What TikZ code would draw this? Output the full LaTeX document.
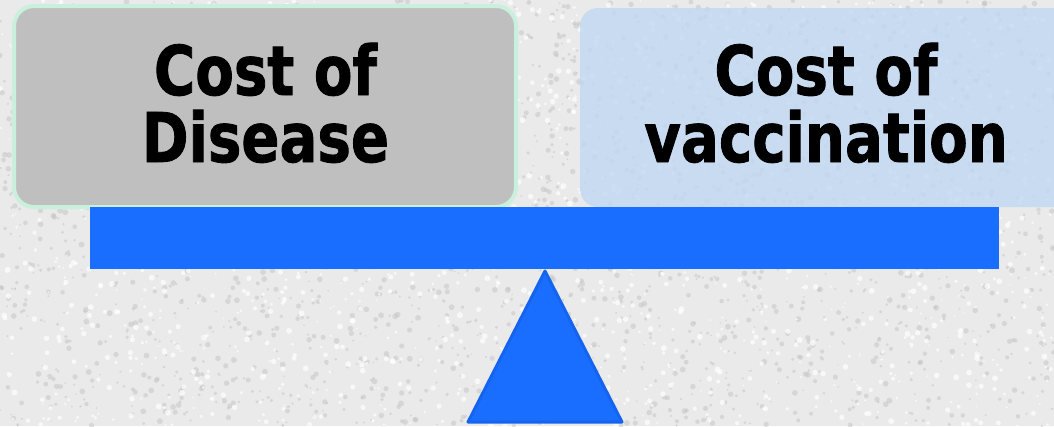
\documentclass[tikz,border=0pt]{standalone}
\usepackage{fontspec}
\newfontfamily\boxfont[FakeStretch=0.82,FakeBold=1.2]{DejaVu Sans Bold}
\definecolor{bgc}{RGB}{234,234,234}
\definecolor{speckdark}{RGB}{196,196,196}
\definecolor{greybox}{RGB}{191,191,191}
\definecolor{mint}{RGB}{200,240,220}
\definecolor{bluebox}{RGB}{192,216,242}
\definecolor{barblue}{RGB}{26,110,255}
\definecolor{baredge}{RGB}{20,100,240}
\tikzset{
  lbl/.style={anchor=base, inner sep=0pt, font=\boxfont\fontsize{68.6}{67}\selectfont, text=black},
  leftbox/.style={fill=greybox, draw=mint, line width=4pt, rounded corners=20pt},
  rightbox/.style={fill=bluebox, fill opacity=0.8, rounded corners=18pt},
  beam/.style={fill=barblue},
  fulcrum/.style={fill=barblue, draw=baredge, line width=3pt, line join=round}
}
\begin{document}
\begin{tikzpicture}[x=1pt,y=-1pt]
\useasboundingbox (0,0) rectangle (1054,426);
\fill[bgc] (0,0) rectangle (1054,426);
\pgfmathsetseed{7}
\foreach \i in {1,...,2500}{
  \pgfmathsetmacro{\px}{rnd*1054}
  \pgfmathsetmacro{\py}{rnd*426}
  \pgfmathsetmacro{\pr}{0.8+rnd*2.2}
  \fill[speckdark, opacity=0.5] (\px,\py) circle (\pr pt);
}
\foreach \i in {1,...,1800}{
  \pgfmathsetmacro{\px}{rnd*1054}
  \pgfmathsetmacro{\py}{rnd*426}
  \pgfmathsetmacro{\pr}{0.8+rnd*2.2}
  \fill[white, opacity=0.7] (\px,\py) circle (\pr pt);
}
\path[leftbox] (14,6) rectangle (516,207);
\path[rightbox] (580,8) rectangle (1074,207);
\node[lbl] (l1) at (265.5,95) {Cost of};
\node[lbl] (l2) at (265.5,162) {Disease};
\node[lbl] (r1) at (826,95) {Cost of};
\node[lbl] (r2) at (826,162) {vaccination};
\path[beam] (90,207) rectangle (999,269);
\path[fulcrum] (545,271) -- (622,422) -- (468,422) -- cycle;
\end{tikzpicture}
\end{document}
